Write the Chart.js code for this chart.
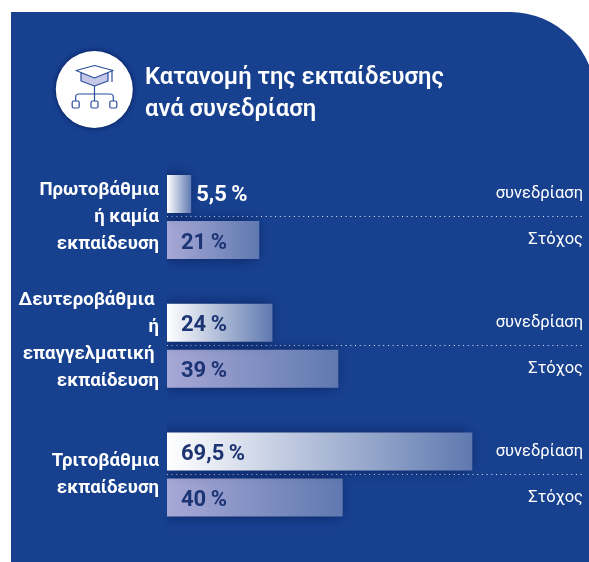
<!DOCTYPE html>
<html><head><meta charset="utf-8">
<style>html,body{margin:0;padding:0;background:#fff}#w{position:relative;width:589px;height:562px}canvas{display:block}</style>
<script src="https://cdn.jsdelivr.net/npm/chart.js@4"></script></head>
<body><div id="w"><canvas id="c" width="589" height="562"></canvas></div>
<script>
const categories=[["Πρωτοβάθμια","ή καμία","εκπαίδευση"],["Δευτεροβάθμια ","ή","επαγγελματική ","εκπαίδευση"],["Τριτοβάθμια","εκπαίδευση"]];
const seriesNames=["συνεδρίαση","Στόχος"];
const sessionValues=[5.5,24,69.5];
const targetValues=[21,39,40];
const titleLines=["Κατανομή της εκπαίδευσης","ανά συνεδρίαση"];
const FONT='Roboto';
const NAVY='#17408f';
const fmt=v=>String(v).replace('.',',')+'\u2009%';
function grad(start,end){return c=>{
  const ch=c.chart,x=ch.scales.x; if(!x||!c.parsed) return end;
  const a=x.getPixelForValue(0),b=x.getPixelForValue(c.parsed.x);
  if(!isFinite(a)||!isFinite(b)) return end;
  const g=ch.ctx.createLinearGradient(a,0,b,0);
  g.addColorStop(0,start);g.addColorStop(1,end);return g;};}
const frame={id:'frame',beforeDraw(ch){
  const g=ch.ctx;g.save();
  g.fillStyle=NAVY;g.beginPath();g.moveTo(11,562);g.lineTo(11,12);g.lineTo(510,12);
  g.arc(510,97.4,85.4,-Math.PI/2,0);g.lineTo(596,562);g.closePath();g.fill();
  g.save();g.shadowColor='rgba(0,15,70,.8)';g.shadowBlur=5;g.fillStyle='#fff';g.beginPath();g.arc(94.3,89.5,38.5,0,7);g.fill();g.restore();
  g.strokeStyle='#2c4f9e';g.lineWidth=1.2;g.lineJoin='round';
  g.fillStyle='#c5c8e6';g.beginPath();g.moveTo(81,73);g.lineTo(108,73);g.lineTo(108,81);g.lineTo(94.5,86);g.lineTo(81,81);g.closePath();g.fill();g.stroke();
  g.fillStyle='#fff';g.beginPath();g.moveTo(76,70.5);g.lineTo(94.5,65.5);g.lineTo(113,70.5);g.lineTo(94.5,78);g.closePath();g.fill();g.stroke();
  g.beginPath();g.moveTo(112,71);g.lineTo(112,82);g.moveTo(94.5,86);g.lineTo(94.5,101);g.moveTo(75.7,101);g.lineTo(75.7,97);g.quadraticCurveTo(75.7,94,79,94);g.lineTo(110,94);g.quadraticCurveTo(113.3,94,113.3,97);g.lineTo(113.3,101);g.stroke();
  [75.7,94.5,113.3].forEach(x=>{g.beginPath();g.roundRect(x-3.5,101,7,7,1.5);g.stroke();});
  g.fillStyle='#fff';g.textAlign='left';g.textBaseline='alphabetic';g.font='600 24.5px '+FONT;
  g.translate(145,0);g.scale(.97,1);
  titleLines.forEach((t,i)=>g.fillText(t,0,84+i*32));
  g.restore();
}};
const shadow={id:'shadow',
  beforeDatasetsDraw(ch){const g=ch.ctx;g.save();g.shadowColor='rgba(0,12,60,.55)';g.shadowBlur=14;g.shadowOffsetX=-3;g.shadowOffsetY=0;},
  afterDatasetsDraw(ch){ch.ctx.restore();}};
const labels={id:'labels',afterDatasetsDraw(ch){
  const g=ch.ctx;g.save();g.textBaseline='middle';
  ch.data.datasets.forEach((d,di)=>{
    ch.getDatasetMeta(di).data.forEach((b,i)=>{
      const v=d.data[i],inside=b.x-ch.chartArea.left>60;
      g.textAlign='left';g.font='700 22px '+FONT;g.fillStyle=inside?'#1c3473':'#fff';
      g.fillText(fmt(v),inside?ch.chartArea.left+14:b.x+5,b.y+(inside?3:2));
      g.textAlign='right';g.font='400 16.5px '+FONT;g.fillStyle='#fff';
      g.fillText(d.label,ch.chartArea.right,b.y);
    });
  });
  g.restore();
}};
const nudge={id:'nudge',afterUpdate(ch){
  const it=ch.scales.y.getLabelItems();
  if(it[1]&&!it[1].__n){it[1].options.translation[1]-=5;it[1].__n=true;}
}};
new Chart(document.getElementById('c'),{
  type:'bar',
  data:{labels:categories,datasets:[
    {label:seriesNames[0],data:sessionValues,backgroundColor:grad('#ffffff','#5f79b0')},
    {label:seriesNames[1],data:targetValues,backgroundColor:grad('#a7a8d6','#5f79b0')}
  ]},
  plugins:[frame,shadow,labels,nudge],
  options:{indexAxis:'y',responsive:false,animation:false,
    categoryPercentage:.715,barPercentage:.826,
    layout:{padding:{left:0,right:6,top:152.6,bottom:23.1}},
    plugins:{legend:{display:false},tooltip:{enabled:false}},
    scales:{
      x:{min:0,max:94.7,display:false},
      y:{afterFit:s=>{s.width=167;s.paddingTop=0;s.paddingBottom=0;},
        border:{display:false,dash:[1,3.7]},
        grid:{offset:false,drawTicks:false,color:'rgba(255,255,255,.9)',lineWidth:1,tickLength:0},
        ticks:{color:'#fff',padding:8,font:{family:FONT,size:18.6,weight:'700',lineHeight:1.45}}}
    }}
});
</script></body></html>
